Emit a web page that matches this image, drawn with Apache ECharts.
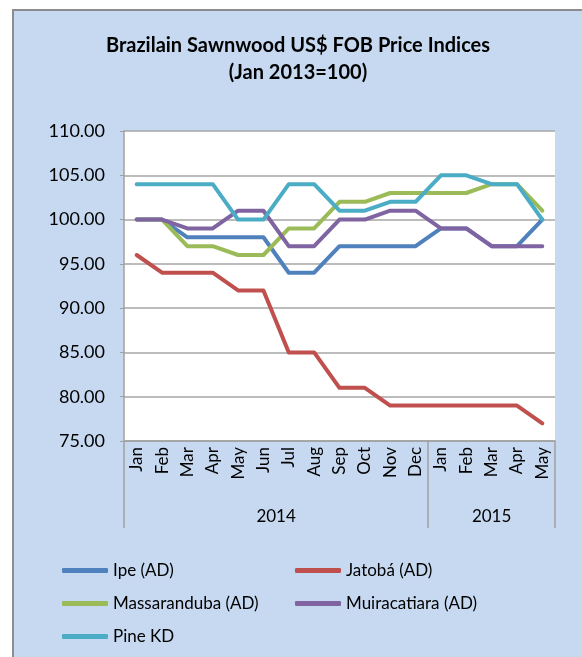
<!DOCTYPE html>
<html>
<head>
<meta charset="utf-8">
<script src="https://cdn.jsdelivr.net/npm/echarts@6/dist/echarts.min.js"></script>
<style>
  html, body { margin: 0; padding: 0; background: #fff; }
  #frame {
    position: absolute; left: 12px; top: 9px; width: 570px; height: 648px;
    border-left: 2px solid #8c8c8c; border-top: 2px solid #8c8c8c;
    background: #c6d9f1; box-sizing: border-box;
  }
  #chart { width: 568px; height: 646px; }
</style>
</head>
<body>
<div id="frame"><div id="chart"></div></div>
<script>
// months Jan 2014 .. May 2015
const months = ['Jan', 'Feb', 'Mar', 'Apr', 'May', 'Jun', 'Jul', 'Aug', 'Sep', 'Oct', 'Nov', 'Dec',
  'Jan', 'Feb', 'Mar', 'Apr', 'May'];
const years = ['2014', '2015'];
const yearSpans = [12, 5];

const ipe = [100, 100, 98, 98, 98, 98, 94, 94, 97, 97, 97, 97, 99, 99, 97, 97, 100];
const jatoba = [96, 94, 94, 94, 92, 92, 85, 85, 81, 81, 79, 79, 79, 79, 79, 79, 77];
const massaranduba = [100, 100, 97, 97, 96, 96, 99, 99, 102, 102, 103, 103, 103, 103, 104, 104, 101];
const muiracatiara = [100, 100, 99, 99, 101, 101, 97, 97, 100, 100, 101, 101, 99, 99, 97, 97, 97];
const pineKD = [104, 104, 104, 104, 100, 100, 104, 104, 101, 101, 102, 102, 105, 105, 104, 104, 100];

const names = ['Ipe (AD)', 'Jatobá (AD)', 'Massaranduba (AD)', 'Muiracatiara (AD)', 'Pine KD'];
const colors = ['#4f81bd', '#c0504d', '#9bbb59', '#8064a2', '#4bacc6'];
const seriesData = [ipe, jatoba, massaranduba, muiracatiara, pineKD];

// year boundaries and centres on a 0..17 value scale matching the category bands
const yearBounds = [0];
yearSpans.forEach(s => yearBounds.push(yearBounds[yearBounds.length - 1] + s));
const yearCenters = yearSpans.map((s, i) => yearBounds[i] + s / 2);

const font = 'Lato, "Open Sans", sans-serif';
const chart = echarts.init(document.getElementById('chart'));

const legendText = { color: '#000', fontSize: 17, fontFamily: font };
const titleText = { fontSize: 20, fontWeight: 'bold', color: '#000', fontFamily: font };

chart.setOption({
  animation: false,
  textStyle: { fontFamily: font },
  title: [
    { text: 'Brazilain Sawnwood US$ FOB Price Indices', left: 'center', top: 20, textStyle: titleText },
    { text: '(Jan 2013=100)', left: 'center', top: 47, textStyle: titleText }
  ],
  grid: {
    left: 110, right: 27, top: 120, bottom: 216,
    show: true, backgroundColor: '#fff', borderWidth: 0
  },
  legend: [
    {
      data: [names[0], names[2], names[4]],
      orient: 'vertical', left: 43, top: 546, itemGap: 16,
      itemWidth: 46, itemHeight: 5, icon: 'roundRect', textStyle: legendText
    },
    {
      data: [names[1], names[3]],
      orient: 'vertical', left: 276, top: 546, itemGap: 16,
      itemWidth: 46, itemHeight: 5, icon: 'roundRect', textStyle: legendText
    }
  ],
  xAxis: [
    {
      type: 'category',
      data: months,
      boundaryGap: true,
      axisLine: { lineStyle: { color: '#a0a0a0', width: 1.5 } },
      axisTick: { show: false },
      axisLabel: { rotate: 90, fontSize: 17, color: '#000', margin: 6, interval: 0 }
    },
    {
      type: 'value',
      min: 0, max: 17,
      position: 'bottom',
      axisLine: { show: false },
      splitLine: { show: false },
      axisTick: {
        show: true, customValues: yearBounds, length: 87,
        lineStyle: { color: '#a0a0a0', width: 1.5 }
      },
      axisLabel: {
        customValues: yearCenters, margin: 67, fontSize: 17, color: '#000',
        formatter: v => years[yearCenters.indexOf(v)] || ''
      }
    }
  ],
  yAxis: {
    type: 'value',
    min: 75, max: 110, interval: 5,
    axisLine: { show: true, lineStyle: { color: '#a0a0a0', width: 1.5 } },
    axisTick: { show: true, length: 4, lineStyle: { color: '#a0a0a0' } },
    splitLine: { lineStyle: { color: '#a6a6a6', width: 1.5 } },
    axisLabel: { fontSize: 18, color: '#000', margin: 19, formatter: v => v.toFixed(2) }
  },
  series: names.map((n, i) => ({
    name: n,
    type: 'line',
    data: seriesData[i],
    symbol: 'none',
    color: colors[i],
    lineStyle: { width: 4, color: colors[i], cap: 'round', join: 'round' }
  }))
});
</script>
</body>
</html>
